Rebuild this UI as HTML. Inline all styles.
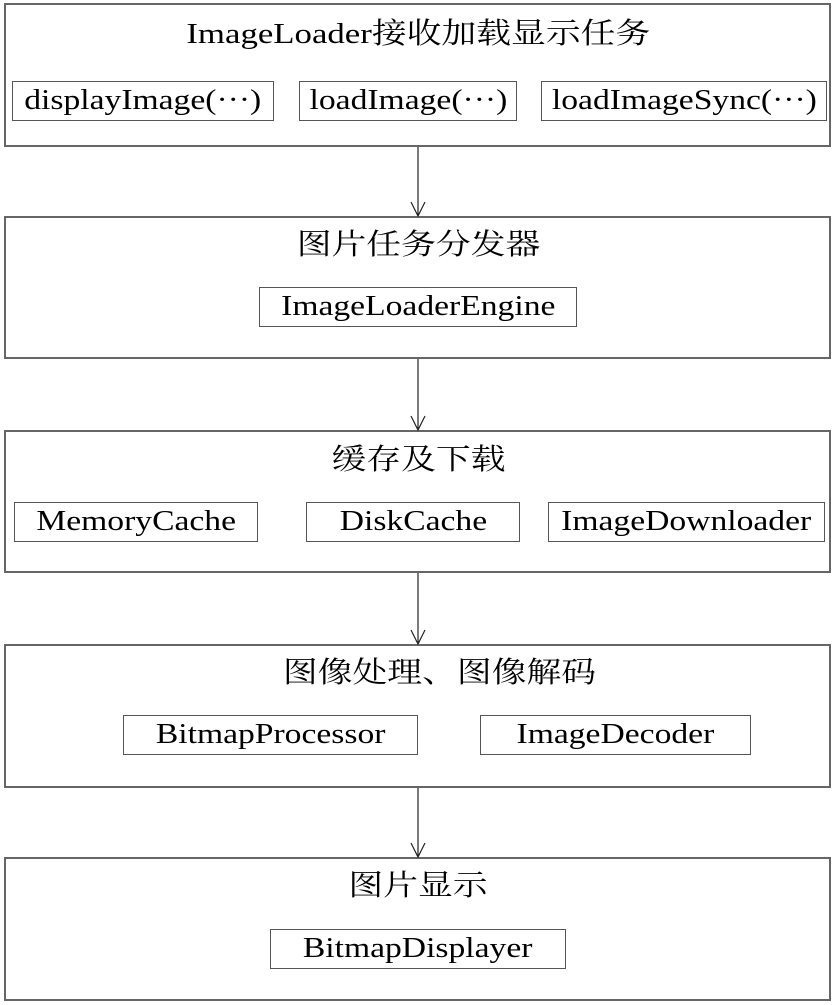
<!DOCTYPE html>
<html><head><meta charset="utf-8"><style>
body{margin:0;width:837px;height:1005px;background:#fff;position:relative;overflow:hidden;font-family:"Liberation Serif","Noto Serif CJK SC",serif;color:#000}
.o{position:absolute;left:4px;width:827px;border:2px solid #666;box-sizing:border-box}
.i{position:absolute;border:1.5px solid #555;box-sizing:border-box;height:40px;line-height:38px;text-align:center;font-size:28px;white-space:nowrap}
.t{position:absolute;left:0;width:837px;text-align:center;font-size:29px;line-height:34px;white-space:nowrap}
span{display:inline-block;transform:scaleX(1.2)}
</style></head><body>
<div class="o" style="top:3px;height:144px"></div>
<div class="o" style="top:216px;height:143px"></div>
<div class="o" style="top:430px;height:143px"></div>
<div class="o" style="top:644px;height:144px"></div>
<div class="o" style="top:857px;height:144px"></div>
<div class="t" style="top:17px"><span>ImageLoader接收加载显示任务</span></div>
<div class="t" style="top:228px"><span>图片任务分发器</span></div>
<div class="t" style="top:443px"><span>缓存及下载</span></div>
<div class="t" style="top:656px;left:21px"><span>图像处理、图像解码</span></div>
<div class="t" style="top:869px"><span>图片显示</span></div>
<div class="i" style="left:12px;top:81px;width:262px"><span>displayImage(···)</span></div>
<div class="i" style="left:299px;top:81px;width:218px"><span>loadImage(···)</span></div>
<div class="i" style="left:541px;top:81px;width:286px"><span>loadImageSync(···)</span></div>
<div class="i" style="left:259px;top:287px;width:318px"><span>ImageLoaderEngine</span></div>
<div class="i" style="left:14px;top:502px;width:244px"><span>MemoryCache</span></div>
<div class="i" style="left:306px;top:502px;width:214px"><span>DiskCache</span></div>
<div class="i" style="left:548px;top:502px;width:277px"><span>ImageDownloader</span></div>
<div class="i" style="left:123px;top:715px;width:295px"><span>BitmapProcessor</span></div>
<div class="i" style="left:480px;top:715px;width:271px"><span>ImageDecoder</span></div>
<div class="i" style="left:270px;top:929px;width:296px"><span>BitmapDisplayer</span></div>
<svg width="837" height="1005" style="position:absolute;left:0;top:0" fill="none" stroke="#222" stroke-width="1.2">
<path d="M418 147V216M411 202L418 216L425 202"/>
<path d="M418 359V430M411 416L418 430L425 416"/>
<path d="M418 573V644M411 630L418 644L425 630"/>
<path d="M418 788V857M411 843L418 857L425 843"/>
</svg>
</body></html>
